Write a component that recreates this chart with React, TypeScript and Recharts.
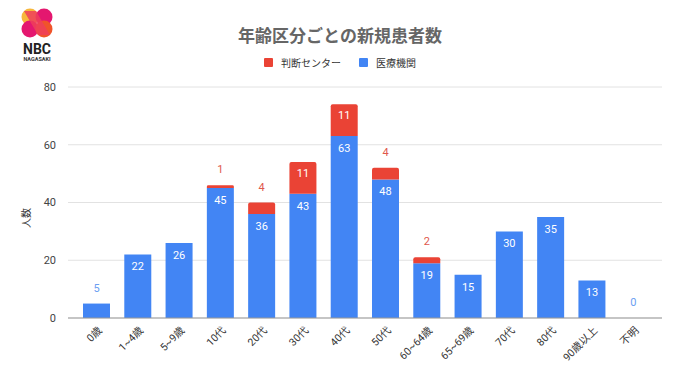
import { Bar, BarChart, CartesianGrid, LabelList, ReferenceDot, XAxis, YAxis } from "recharts";

// age groups on the x axis
const categories = [
  "0歳", "1~4歳", "5~9歳", "10代", "20代", "30代", "40代",
  "50代", "60~64歳", "65~69歳", "70代", "80代", "90歳以上", "不明",
];
// 医療機関 (blue, bottom of stack)
const medical = [5, 22, 26, 45, 36, 43, 63, 48, 19, 15, 30, 35, 13, 0];
// 判断センター (red, top of stack)
const center = [0, 0, 0, 1, 4, 11, 11, 4, 2, 0, 0, 0, 0, 0];
const yTicks = [0, 20, 40, 60, 80];

const BLUE = "#4285f4";
const RED = "#ea4335";
const FONT = "Roboto, 'Noto Sans CJK JP', sans-serif";

const chartData = categories.map((name, i) => ({
  name,
  medical: medical[i],
  center: center[i],
}));

// categories whose whole stack is zero get no bar, so their label is drawn separately
const zeroCats = categories.filter((_, i) => medical[i] + center[i] === 0);

const XTick = (props: any) => {
  const { x, y, payload } = props;
  return (
    <g transform={`translate(${x + 6},${y + 5})`}>
      <text textAnchor="end" transform="rotate(-45)" fontSize={10.5} fill="#333" fontFamily={FONT}>
        {payload.value}
      </text>
    </g>
  );
};

// blue labels: inside the bar unless it is short and has nothing on top
const medicalLabel = (props: any) => {
  const { x, y, width, value, index } = props;
  const cx = x + width / 2;
  if (value < 10 && center[index] === 0) {
    return (
      <text x={cx} y={y - 12} textAnchor="middle" fontSize={11} fill="#6a9ef2" fontFamily={FONT}>
        {value}
      </text>
    );
  }
  return (
    <text x={cx} y={y + 16} textAnchor="middle" fontSize={11} fill="#fff" fontFamily={FONT}>
      {value}
    </text>
  );
};

// red labels: inside when big, above in red when small
const centerLabel = (props: any) => {
  const { x, y, width, value } = props;
  if (!value) return null;
  const cx = x + width / 2;
  if (value >= 10) {
    return (
      <text x={cx} y={y + 15} textAnchor="middle" fontSize={11} fill="#fff" fontFamily={FONT}>
        {value}
      </text>
    );
  }
  return (
    <text x={cx} y={y - 12} textAnchor="middle" fontSize={11} fill="#e0584c" fontFamily={FONT}>
      {value}
    </text>
  );
};

const zeroLabel = (props: any) => {
  const { viewBox } = props;
  return (
    <text x={viewBox.x + viewBox.width / 2} y={viewBox.y - 12} textAnchor="middle" fontSize={11} fill="#6a9ef2" fontFamily={FONT}>
      0
    </text>
  );
};

const legendItems = [
  { label: "判断センター", color: RED },
  { label: "医療機関", color: BLUE },
];

const Logo = () => (
  <svg width={70} height={70} style={{ position: "absolute", left: 0, top: 0 }}>
    <circle cx={30} cy={17} r={8.5} fill="#f7b73b" />
    <circle cx={44} cy={17} r={8.5} fill="#e4176f" />
    <circle cx={30} cy={29} r={8.5} fill="#e4176f" />
    <circle cx={44} cy={29} r={8.5} fill="#f0542a" />
    <path d="M24 11 L36 11 L50 35 L38 35 Z" fill="#ee3f5a" opacity={0.85} />
    <text x={37} y={54} textAnchor="middle" fontSize={14} fontWeight="bold" fill="#222" fontFamily={FONT}>
      NBC
    </text>
    <text x={37} y={61} textAnchor="middle" fontSize={5.5} fontWeight="bold" fill="#333" fontFamily={FONT}>
      NAGASAKI
    </text>
  </svg>
);

export default function App() {
  return (
    <div style={{ position: "absolute", left: 0, top: 0, width: 680, height: 382, background: "#fff" }}>
      <Logo />
      <div
        style={{
          position: "absolute",
          top: 22,
          left: 0,
          width: 680,
          textAlign: "center",
          fontFamily: FONT,
          fontSize: 17,
          fontWeight: "bold",
          color: "#666",
        }}
      >
        年齢区分ごとの新規患者数
      </div>
      <div
        style={{
          position: "absolute",
          top: 55,
          left: 0,
          width: 680,
          display: "flex",
          justifyContent: "center",
          gap: 18,
          fontFamily: FONT,
          fontSize: 10,
          color: "#333",
        }}
      >
        {legendItems.map((item) => (
          <div key={item.label} style={{ display: "flex", alignItems: "center", gap: 8 }}>
            <span style={{ width: 9, height: 9, background: item.color, borderRadius: 1, display: "inline-block" }} />
            <span>{item.label}</span>
          </div>
        ))}
      </div>
      <div
        style={{
          position: "absolute",
          left: 25,
          top: 218,
          transform: "translate(-50%, -50%) rotate(-90deg)",
          fontFamily: FONT,
          fontSize: 10,
          color: "#333",
          whiteSpace: "nowrap",
        }}
      >
        人数
      </div>
      <div style={{ position: "absolute", left: 0, top: 0 }}>
        <BarChart
          width={680}
          height={382}
          data={chartData}
          margin={{ top: 87, right: 18, left: 28, bottom: 8 }}
        >
          <CartesianGrid vertical={false} stroke="#e2e2e2" />
          <XAxis
            dataKey="name"
            interval={0}
            height={56}
            padding={{ left: 8, right: 8 }}
            tick={<XTick />}
            tickLine={false}
            axisLine={{ stroke: "#999" }}
          />
          <YAxis
            width={40}
            domain={[0, 80]}
            ticks={yTicks}
            tickLine={false}
            axisLine={false}
            tick={{ fontSize: 11, fill: "#444", fontFamily: FONT }}
            tickMargin={6}
          />
          <Bar dataKey="medical" name="医療機関" stackId="a" fill={BLUE} barSize={27} isAnimationActive={false}>
            <LabelList dataKey="medical" content={medicalLabel} />
          </Bar>
          <Bar dataKey="center" name="判断センター" stackId="a" fill={RED} barSize={27} radius={[2, 2, 0, 0]} isAnimationActive={false}>
            <LabelList dataKey="center" content={centerLabel} />
          </Bar>
          {zeroCats.map((c) => (
            <ReferenceDot key={c} x={c} y={0} r={0} fill="none" stroke="none" label={zeroLabel} />
          ))}
        </BarChart>
      </div>
    </div>
  );
}
